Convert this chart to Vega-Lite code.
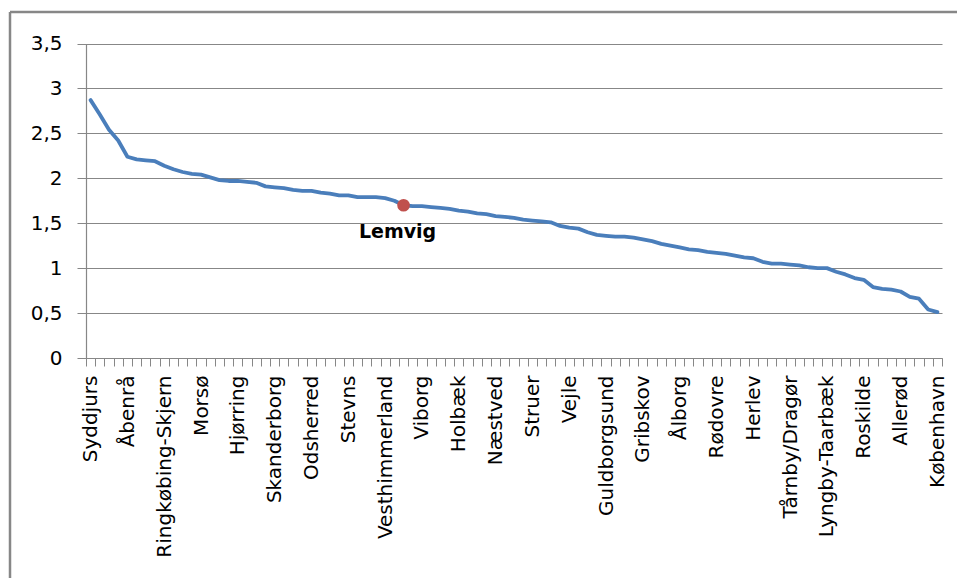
{
  "$schema": "https://vega.github.io/schema/vega-lite/v6.json",
  "width": 948,
  "height": 566,
  "autosize": {"type": "none"},
  "padding": {"left": 10, "top": 12, "right": 0, "bottom": 0},
  "background": "white",
  "view": {"stroke": "#878787", "strokeWidth": 2.5, "fill": "white", "strokeDash": [947, 1515, 566, 0]},
  "config": {
    "font": "DejaVu Sans",
    "axis": {"labelFont": "DejaVu Sans", "labelColor": "#000000", "labelFontSize": 20, "labelLimit": 400, "domainColor": "#878787", "tickColor": "#878787", "gridColor": "#878787", "gridWidth": 1, "domainWidth": 1.2, "tickWidth": 1}
  },
  "data": {"values": [
    {"rank": 0, "kommune": "Syddjurs", "v": 2.87},
    {"rank": 1, "kommune": "Norddjurs", "v": 2.71},
    {"rank": 2, "kommune": "Lolland", "v": 2.54},
    {"rank": 3, "kommune": "Langeland", "v": 2.42},
    {"rank": 4, "kommune": "Åbenrå", "v": 2.24},
    {"rank": 5, "kommune": "Tønder", "v": 2.21},
    {"rank": 6, "kommune": "Bornholm", "v": 2.20},
    {"rank": 7, "kommune": "Vordingborg", "v": 2.19},
    {"rank": 8, "kommune": "Ringkøbing-Skjern", "v": 2.14},
    {"rank": 9, "kommune": "Thisted", "v": 2.10},
    {"rank": 10, "kommune": "Jammerbugt", "v": 2.07},
    {"rank": 11, "kommune": "Brønderslev", "v": 2.05},
    {"rank": 12, "kommune": "Morsø", "v": 2.04},
    {"rank": 13, "kommune": "Frederikshavn", "v": 2.01},
    {"rank": 14, "kommune": "Mariagerfjord", "v": 1.98},
    {"rank": 15, "kommune": "Rebild", "v": 1.97},
    {"rank": 16, "kommune": "Hjørring", "v": 1.97},
    {"rank": 17, "kommune": "Skive", "v": 1.96},
    {"rank": 18, "kommune": "Varde", "v": 1.95},
    {"rank": 19, "kommune": "Vejen", "v": 1.91},
    {"rank": 20, "kommune": "Skanderborg", "v": 1.90},
    {"rank": 21, "kommune": "Kalundborg", "v": 1.89},
    {"rank": 22, "kommune": "Faaborg-Midtfyn", "v": 1.87},
    {"rank": 23, "kommune": "Assens", "v": 1.86},
    {"rank": 24, "kommune": "Odsherred", "v": 1.86},
    {"rank": 25, "kommune": "Nordfyns", "v": 1.84},
    {"rank": 26, "kommune": "Kerteminde", "v": 1.83},
    {"rank": 27, "kommune": "Faxe", "v": 1.81},
    {"rank": 28, "kommune": "Stevns", "v": 1.81},
    {"rank": 29, "kommune": "Sorø", "v": 1.79},
    {"rank": 30, "kommune": "Billund", "v": 1.79},
    {"rank": 31, "kommune": "Haderslev", "v": 1.79},
    {"rank": 32, "kommune": "Vesthimmerland", "v": 1.78},
    {"rank": 33, "kommune": "Ikast-Brande", "v": 1.75},
    {"rank": 34, "kommune": "Lemvig", "v": 1.70},
    {"rank": 35, "kommune": "Holstebro", "v": 1.69},
    {"rank": 36, "kommune": "Viborg", "v": 1.69},
    {"rank": 37, "kommune": "Herning", "v": 1.68},
    {"rank": 38, "kommune": "Hedensted", "v": 1.67},
    {"rank": 39, "kommune": "Slagelse", "v": 1.66},
    {"rank": 40, "kommune": "Holbæk", "v": 1.64},
    {"rank": 41, "kommune": "Nyborg", "v": 1.63},
    {"rank": 42, "kommune": "Svendborg", "v": 1.61},
    {"rank": 43, "kommune": "Sønderborg", "v": 1.60},
    {"rank": 44, "kommune": "Næstved", "v": 1.58},
    {"rank": 45, "kommune": "Middelfart", "v": 1.57},
    {"rank": 46, "kommune": "Esbjerg", "v": 1.56},
    {"rank": 47, "kommune": "Silkeborg", "v": 1.54},
    {"rank": 48, "kommune": "Struer", "v": 1.53},
    {"rank": 49, "kommune": "Randers", "v": 1.52},
    {"rank": 50, "kommune": "Favrskov", "v": 1.51},
    {"rank": 51, "kommune": "Ringsted", "v": 1.47},
    {"rank": 52, "kommune": "Vejle", "v": 1.45},
    {"rank": 53, "kommune": "Horsens", "v": 1.44},
    {"rank": 54, "kommune": "Kolding", "v": 1.40},
    {"rank": 55, "kommune": "Fredericia", "v": 1.37},
    {"rank": 56, "kommune": "Guldborgsund", "v": 1.36},
    {"rank": 57, "kommune": "Odder", "v": 1.35},
    {"rank": 58, "kommune": "Halsnæs", "v": 1.35},
    {"rank": 59, "kommune": "Frederikssund", "v": 1.34},
    {"rank": 60, "kommune": "Gribskov", "v": 1.32},
    {"rank": 61, "kommune": "Lejre", "v": 1.30},
    {"rank": 62, "kommune": "Køge", "v": 1.27},
    {"rank": 63, "kommune": "Helsingør", "v": 1.25},
    {"rank": 64, "kommune": "Ålborg", "v": 1.23},
    {"rank": 65, "kommune": "Odense", "v": 1.21},
    {"rank": 66, "kommune": "Aarhus", "v": 1.20},
    {"rank": 67, "kommune": "Hvidovre", "v": 1.18},
    {"rank": 68, "kommune": "Rødovre", "v": 1.17},
    {"rank": 69, "kommune": "Brøndby", "v": 1.16},
    {"rank": 70, "kommune": "Ishøj", "v": 1.14},
    {"rank": 71, "kommune": "Glostrup", "v": 1.12},
    {"rank": 72, "kommune": "Herlev", "v": 1.11},
    {"rank": 73, "kommune": "Albertslund", "v": 1.07},
    {"rank": 74, "kommune": "Vallensbæk", "v": 1.05},
    {"rank": 75, "kommune": "Høje-Taastrup", "v": 1.05},
    {"rank": 76, "kommune": "Tårnby/Dragør", "v": 1.04},
    {"rank": 77, "kommune": "Greve", "v": 1.03},
    {"rank": 78, "kommune": "Solrød", "v": 1.01},
    {"rank": 79, "kommune": "Egedal", "v": 1.00},
    {"rank": 80, "kommune": "Lyngby-Taarbæk", "v": 1.00},
    {"rank": 81, "kommune": "Ballerup", "v": 0.96},
    {"rank": 82, "kommune": "Fredensborg", "v": 0.93},
    {"rank": 83, "kommune": "Hillerød", "v": 0.89},
    {"rank": 84, "kommune": "Roskilde", "v": 0.87},
    {"rank": 85, "kommune": "Furesø", "v": 0.79},
    {"rank": 86, "kommune": "Gladsaxe", "v": 0.77},
    {"rank": 87, "kommune": "Frederiksberg", "v": 0.76},
    {"rank": 88, "kommune": "Allerød", "v": 0.74},
    {"rank": 89, "kommune": "Rudersdal", "v": 0.68},
    {"rank": 90, "kommune": "Hørsholm", "v": 0.66},
    {"rank": 91, "kommune": "Gentofte", "v": 0.54},
    {"rank": 92, "kommune": "København", "v": 0.51}
  ]},
  "encoding": {
    "x": {
      "field": "kommune",
      "type": "nominal",
      "sort": {"field": "rank"},
      "scale": {"type": "band", "paddingInner": 0, "paddingOuter": 0, "range": [76, 932]},
      "axis": {
        "title": null,
        "offset": -220,
        "tickBand": "extent",
        "tickSize": 8,
        "labelAngle": -90,
        "labelAlign": "right",
        "labelBaseline": "middle",
        "labelPadding": 9,
        "labelOverlap": false,
        "labelBound": false,
        "grid": false,
        "labelExpr": "indexof(['Syddjurs','Åbenrå','Ringkøbing-Skjern','Morsø','Hjørring','Skanderborg','Odsherred','Stevns','Vesthimmerland','Viborg','Holbæk','Næstved','Struer','Vejle','Guldborgsund','Gribskov','Ålborg','Rødovre','Herlev','Tårnby/Dragør','Lyngby-Taarbæk','Roskilde','Allerød','København'], datum.value) >= 0 ? datum.value : ''"
      }
    },
    "y": {
      "field": "v",
      "type": "quantitative",
      "scale": {"domain": [0, 3.5], "range": [346, 31.5], "nice": false, "zero": true},
      "axis": {
        "title": null,
        "offset": -76,
        "values": [0, 0.5, 1, 1.5, 2, 2.5, 3, 3.5],
        "grid": true,
        "tickSize": 9,
        "labelPadding": 15,
        "labelExpr": "replace(format(datum.value, '.1~f'), '.', ',')"
      }
    }
  },
  "layer": [
    {"mark": {"type": "line", "color": "#4A7EBB", "strokeWidth": 3.8, "strokeJoin": "round", "strokeCap": "round"}},
    {
      "transform": [{"filter": "datum.kommune == 'Lemvig'"}],
      "mark": {"type": "point", "filled": true, "color": "#C0504D", "opacity": 1, "size": 160}
    },
    {
      "transform": [{"filter": "datum.kommune == 'Lemvig'"}],
      "mark": {"type": "text", "text": "Lemvig", "font": "DejaVu Sans", "fontWeight": "bold", "fontSize": 19, "color": "#000000", "dx": -6, "dy": 27, "align": "center", "baseline": "middle"}
    }
  ]
}
